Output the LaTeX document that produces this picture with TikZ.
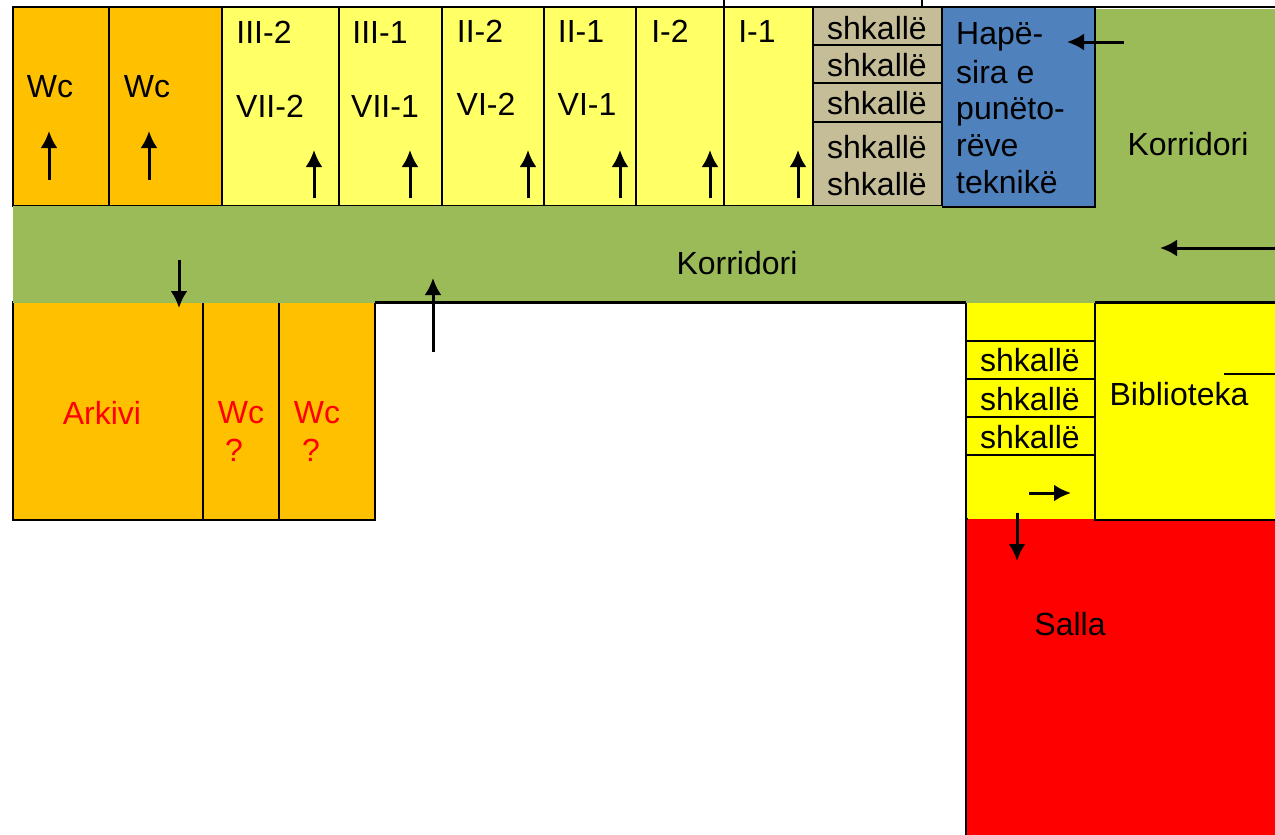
\documentclass[tikz,border=0pt]{standalone}
\usepackage{fontspec}
\setmainfont{Liberation Sans}
\usetikzlibrary{arrows.meta}
\tikzset{
	room/.style={draw=black,line width=2.5pt},
	label/.style={inner sep=0pt,font=\fontsize{32}{38}\selectfont},
	leftlabel/.style={label,anchor=base west},
	redlabel/.style={label,text=red},
	walk/.style={-{Latex[length=17pt,width=17pt]},line width=3pt}
}
\definecolor{wcorange}{RGB}{255,192,0}
\definecolor{paleyellow}{RGB}{255,255,102}
\definecolor{stairtan}{RGB}{196,189,151}
\definecolor{techblue}{RGB}{79,129,189}
\definecolor{corrgreen}{RGB}{155,187,89}
\definecolor{fullyellow}{RGB}{255,255,0}
\definecolor{fullred}{RGB}{255,0,0}
\begin{document}
\begin{tikzpicture}[x=1pt,y=-1pt]
	\useasboundingbox (0,0) rectangle (1275,835);
	% upper row
	\draw[room,fill=wcorange] (13,7) rectangle (109,206);
	\draw[room,fill=wcorange] (109,7) rectangle (222,206);
	\foreach \xa/\xb in {222/339,339/442,442/544,544/636,636/724,724/813}
		\draw[room,fill=paleyellow] (\xa,7) rectangle (\xb,206);
	\foreach \ya/\yb in {7/45,45/83,83/122,122/206}
		\draw[room,fill=stairtan] (813,\ya) rectangle (942,\yb);
	\draw[room,fill=techblue] (942,7) rectangle (1095,207);
	\draw[line width=1.5pt] (724,0) -- (724,7);
	\draw[line width=1.5pt] (922,0) -- (922,7);
	% lower rooms
	\draw[room,fill=wcorange] (13,302) rectangle (203,520);
	\draw[room,fill=wcorange] (203,302) rectangle (279,520);
	\draw[room,fill=wcorange] (279,302) rectangle (375,520);
	\fill[fullred] (966,519) rectangle (1275,835);
	\draw[room] (966,519) -- (966,835);
	\foreach \ya/\yb in {302/341,341/379,379/417,417/455,455/519}
		\draw[room,fill=fullyellow] (966,\ya) rectangle (1095,\yb);
	\fill[fullyellow] (967.5,515) rectangle (1093.5,519);
	\fill[fullred] (967.5,519) rectangle (1093.5,522);
	\draw[room,fill=fullyellow] (1095,302) rectangle (1285,520);
	\draw[line width=1.5pt] (1224,374) -- (1275,374);
	% corridors
	\draw[room] (13,7) -- (1275,7);
	\fill[corrgreen] (13,206) rectangle (1275,303);
	\fill[corrgreen] (1096,8.5) rectangle (1275,206);
	\draw[room] (942,207) -- (1096,207);
	\draw[room] (375,302.5) -- (966,302.5);
	\draw[room] (1095,302.5) -- (1275,302.5);
	% labels
	\node[label] (wca) at (50,87) {Wc};
	\node[label] (wcb) at (147,87) {Wc};
	\node[label] (roomc) at (264,32) {III-2};
	\node[label] (roomcb) at (270,106) {VII-2};
	\node[label] (roomd) at (380,32) {III-1};
	\node[label] (roomdb) at (385,106) {VII-1};
	\node[label] (roome) at (480,31) {II-2};
	\node[label] (roomeb) at (486,104) {VI-2};
	\node[label] (roomf) at (581,31) {II-1};
	\node[label] (roomfb) at (587,104) {VI-1};
	\node[label] (roomg) at (670,31) {I-2};
	\node[label] (roomh) at (757,31) {I-1};
	\foreach \yy [count=\i] in {28,65,103,147,184}
		\node[label] (staira\i) at (877,\yy) {shkallë};
	\node[leftlabel] (techa) at (956,45) {Hapë-};
	\node[leftlabel] (techb) at (956,83) {sira e};
	\node[leftlabel] (techc) at (956,119) {punëto-};
	\node[leftlabel] (techd) at (956,156) {rëve};
	\node[leftlabel] (teche) at (956,193) {teknikë};
	\node[label] (corra) at (1188,144) {Korridori};
	\node[label] (corrb) at (737,263) {Korridori};
	\node[redlabel] (arkivi) at (102,413) {Arkivi};
	\node[redlabel] (wcc) at (241,413) {Wc};
	\node[redlabel] (qc) at (234,450) {?};
	\node[redlabel] (wcd) at (317,413) {Wc};
	\node[redlabel] (qd) at (311,450) {?};
	\foreach \yy [count=\i] in {360,399,437}
		\node[label] (stairb\i) at (1030,\yy) {shkallë};
	\node[label] (biblioteka) at (1179,394) {Biblioteka};
	\node[label] (salla) at (1070,624) {Salla};
	% arrows
	\foreach \xx in {49,149}
		\draw[walk] (\xx,180) -- (\xx,131);
	\foreach \xx in {314,410,528,620,710,798}
		\draw[walk] (\xx,198) -- (\xx,150);
	\draw[walk] (1124,42) -- (1067,42);
	\draw[walk] (1275,248) -- (1160,248);
	\draw[walk] (179,260) -- (179,308);
	\draw[walk] (433,352) -- (433,278);
	\draw[walk] (1029,493) -- (1071,493);
	\draw[walk] (1017,513) -- (1017,561);
\end{tikzpicture}
\end{document}
